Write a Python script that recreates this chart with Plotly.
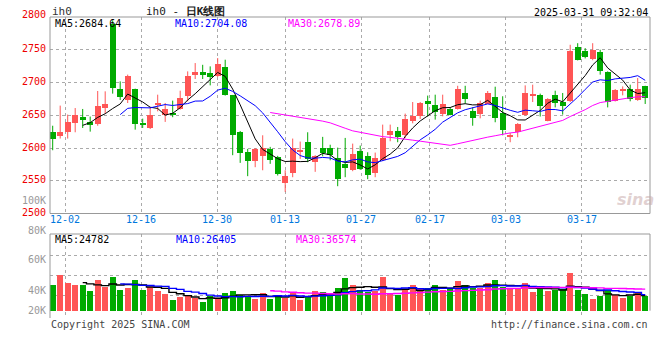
import plotly.graph_objects as go
import pandas as pd

# ---------------- data ----------------
opens = [2624.5, 2618, 2624, 2637.7, 2648, 2639, 2636, 2660.6, 2790, 2690.6,
         2672.8, 2690.6, 2638.7, 2630.6, 2665.2, 2650, 2653.5, 2660, 2680, 2712,
         2716.5, 2715, 2709.4, 2723, 2680.4, 2625, 2593.5, 2580.8, 2587.4, 2599,
         2586.4, 2546.8, 2562, 2594.5, 2608.8, 2578.8, 2600.6, 2600.6, 2585.4, 2575.2,
         2567, 2596, 2588.4, 2561.5, 2581.3, 2619.4, 2626.5, 2619.4, 2640.8, 2648.4,
         2672.3, 2665.2, 2652.5, 2660, 2659.6, 2684.5, 2657, 2651.4, 2667.2, 2678.4,
         2653, 2616.4, 2624.5, 2650, 2679.4, 2681.4, 2641.8, 2681.4, 2670.2, 2671.3,
         2754, 2748.5, 2735.8, 2747, 2716, 2672.3, 2686.5, 2690.6, 2672.8, 2694]
highs = [2634, 2664.7, 2651, 2661, 2659.6, 2648, 2687, 2686.5, 2795, 2701.7,
         2712, 2690.6, 2644.8, 2662.6, 2681.4, 2668.7, 2672.3, 2687.5, 2717, 2729.7,
         2727, 2724.6, 2737.3, 2734.8, 2681, 2626, 2598.6, 2600, 2619.4, 2601.7,
         2588, 2566, 2614.4, 2609.8, 2624, 2589, 2617, 2605, 2600.6, 2615.4,
         2606.7, 2603.7, 2593.5, 2593, 2635.7, 2635.7, 2632.1, 2652.5, 2670.2, 2670.2,
         2680, 2681.4, 2681.4, 2662.6, 2695, 2695, 2662, 2672.3, 2687, 2693.6,
         2679, 2623, 2638, 2695.6, 2696.7, 2683, 2676, 2687.5, 2684, 2757.6,
         2760, 2752.5, 2760, 2750, 2717, 2690, 2694, 2696.7, 2706.8, 2695]
lows = [2596.6, 2614.4, 2614.4, 2624, 2630.6, 2625, 2634, 2652.5, 2683, 2673.3,
        2668.7, 2628, 2630.6, 2629, 2656, 2639.8, 2647, 2658.6, 2671.3, 2705.3,
        2705.3, 2695.6, 2708.5, 2680, 2589, 2577.3, 2557, 2570.7, 2566, 2575.8,
        2558, 2533, 2555.4, 2583.4, 2578.3, 2563.6, 2587.4, 2581.3, 2541.7, 2555.4,
        2564.6, 2566.6, 2552.4, 2555.4, 2580, 2610.3, 2608.8, 2615.4, 2637.7, 2644.3,
        2648, 2643.3, 2648.4, 2650, 2658.6, 2667.7, 2634, 2645.3, 2667, 2639.3,
        2619.4, 2608.8, 2616.4, 2649, 2670.2, 2648, 2640.8, 2662, 2651, 2670,
        2733.7, 2736.8, 2734, 2712, 2662, 2671, 2680.4, 2671.3, 2672, 2667.2]
closes = [2614.4, 2624.5, 2639.8, 2651, 2643.3, 2634.7, 2664.7, 2667.7, 2691, 2678,
          2710.4, 2637.2, 2634.7, 2651, 2668.7, 2659.6, 2651, 2676.8, 2710.4, 2716.5,
          2712, 2708.9, 2728.7, 2680.4, 2619.4, 2592, 2579.8, 2598, 2599.6, 2581.3,
          2560, 2558, 2600.6, 2596, 2583.4, 2587.4, 2592, 2589, 2552.4, 2569,
          2591.5, 2568.6, 2558.5, 2584, 2615.9, 2626.5, 2616.4, 2644.8, 2649.4, 2669.2,
          2666.7, 2654.5, 2667.7, 2651, 2690.6, 2674.3, 2645.3, 2669.2, 2684.5, 2645.3,
          2627, 2620.5, 2637.2, 2684, 2681.4, 2663.6, 2675.3, 2668.7, 2663.6, 2747.5,
          2734.8, 2738.3, 2750, 2718, 2670.2, 2689, 2690.6, 2675.3, 2690.6, 2676.3]
volumes = [41800, 58100, 45100, 41800, 41800, 32100, 50000, 38600, 54900, 33700,
           36900, 50000, 33700, 38600, 32100, 27200, 17400, 22300, 23900, 20600,
           14100, 23400, 19000, 28800, 32100, 25500, 23400, 19600, 28800, 19000,
           23900, 20600, 28800, 17400, 23900, 32100, 30400, 25500, 36900, 53200,
           41800, 33700, 30400, 32100, 54900, 28800, 25500, 33700, 41800, 35300,
           36900, 41800, 33700, 35300, 48400, 41800, 36900, 36900, 45100, 50000,
           38600, 35300, 35300, 45100, 30400, 36900, 32100, 33700, 35300, 61400,
           33700, 27200, 19000, 23900, 33700, 25500, 20600, 23900, 30400, 23900]

date_labels = ["12-02", "12-16", "12-30", "01-13", "01-27", "02-17", "03-03", "03-17"]
date_index = [2, 12, 22, 31, 41, 50, 60, 70]
price_ticks = [2800, 2750, 2700, 2650, 2600, 2550, 2500]
vol_tick_labels = ["100K", "80K", "60K", "40K", "20K"]
price_ma_labels = ["MA5:2684.64", "MA10:2704.08", "MA30:2678.89"]
vol_ma_labels = ["MA5:24782", "MA10:26405", "MA30:36574"]
symbol = "ih0"
title_cn = "日K线图"
timestamp = "2025-03-31 09:32:04"

# ---------------- geometry helpers ----------------
W, H = 660, 360
L, R, T, B = 50, 10, 17, 42
PW, PH = W - L - R, H - T - B
PRICE_TOP, PRICE_BOT = 17, 213.5
VOL_TOP, VOL_BOT, VOL_ZERO = 234, 318, 310.7
VOL_PER_PX = 1630
N = len(closes)
STEP = PW / N            # candle slot width in px
GRID_STEP = PW / (N - 1)  # date grid spacing in px


def px_x(px):
    return (px - L) / PW


def px_y(py):
    return (T + PH - py) / PH


def grid_pos(k):
    # date grid line position expressed in candle-index units
    return (k * GRID_STEP - 2.7) / STEP


RED = "#ff5555"
GREEN = "#00aa00"
FONT = "DejaVu Sans Mono, Liberation Mono, monospace"

idx = list(range(N))
up = [c >= o for o, c in zip(opens, closes)]
colors = [RED if u else GREEN for u in up]

s_close = pd.Series(closes)
s_vol = pd.Series(volumes)

fig = go.Figure()

# wicks
for col, flag in ((RED, True), (GREEN, False)):
    xs, ys = [], []
    for i in idx:
        if up[i] == flag:
            xs += [i, i, None]
            ys += [lows[i], highs[i], None]
    fig.add_trace(go.Scatter(x=xs, y=ys, mode="lines", line=dict(color=col, width=1),
                             hoverinfo="skip", showlegend=False, xaxis="x", yaxis="y"))

# bodies
base = [min(o, c) for o, c in zip(opens, closes)]
height = [max(abs(c - o), 1.6) for o, c in zip(opens, closes)]
fig.add_trace(go.Bar(x=idx, y=height, base=base, width=0.8,
                     marker=dict(color=colors, line=dict(width=0)),
                     showlegend=False, xaxis="x", yaxis="y"))

# price moving averages
for w, col in ((5, "#000000"), (10, "#0000ff"), (30, "#ff00ff")):
    ma = s_close.rolling(w).mean()
    fig.add_trace(go.Scatter(x=idx, y=ma, mode="lines", line=dict(color=col, width=1),
                             showlegend=False, xaxis="x", yaxis="y"))

# volume bars
fig.add_trace(go.Bar(x=idx, y=volumes, width=0.8,
                     marker=dict(color=colors, line=dict(width=0)),
                     showlegend=False, xaxis="x2", yaxis="y2"))

for w, col in ((5, "#000000"), (10, "#0000ff"), (30, "#ff00ff")):
    ma = s_vol.rolling(w).mean()
    fig.add_trace(go.Scatter(x=idx, y=ma, mode="lines", line=dict(color=col, width=1.4, shape="hvh"),
                             showlegend=False, xaxis="x2", yaxis="y2"))

xr = [(-2.7) / STEP, (PW - 2.7) / STEP]
gridvals = [grid_pos(k) for k in date_index]
price_domain = [px_y(PRICE_BOT), px_y(PRICE_TOP)]
vol_domain = [px_y(VOL_BOT), px_y(VOL_TOP)]
vol_range = [-(VOL_BOT - VOL_ZERO) * VOL_PER_PX, (VOL_ZERO - VOL_TOP) * VOL_PER_PX]
vol_grid = [(VOL_ZERO - p) * VOL_PER_PX for p in (255.3, 275.3, 295.3)]

grid_style = dict(showgrid=True, gridcolor="#aaaaaa", griddash="dot", gridwidth=1,
                  zeroline=False, showline=False, showticklabels=False, ticks="")

fig.update_layout(
    width=W, height=H,
    margin=dict(l=L, r=R, t=T, b=B),
    paper_bgcolor="white", plot_bgcolor="white",
    bargap=0, barmode="overlay",
    showlegend=False,
    xaxis=dict(range=xr, domain=[0, 1], anchor="y", tickvals=gridvals, **grid_style),
    yaxis=dict(range=[2500, 2800], domain=price_domain, anchor="x",
               tickvals=[2550, 2600, 2650, 2700, 2750], **grid_style),
    xaxis2=dict(range=xr, domain=[0, 1], anchor="y2", tickvals=gridvals, matches="x", **grid_style),
    yaxis2=dict(range=vol_range, domain=vol_domain, anchor="x2", tickvals=vol_grid, **grid_style),
)

# borders
fig.add_shape(type="rect", xref="x domain", yref="y domain", x0=0, x1=1, y0=0, y1=1,
              line=dict(color="#999999", width=1))
fig.add_shape(type="line", xref="x2 domain", yref="y2 domain", x0=0, x1=1, y0=1, y1=1,
              line=dict(color="#999999", width=1))
fig.add_shape(type="line", xref="x2 domain", yref="y2 domain", x0=0, x1=0, y0=0, y1=1,
              line=dict(color="#999999", width=1))
fig.add_shape(type="line", xref="x2 domain", yref="y2 domain", x0=1, x1=1,
              y0=(VOL_BOT - VOL_ZERO) / (VOL_BOT - VOL_TOP), y1=1,
              line=dict(color="#999999", width=1))


def ann(text, px, py, color, xanchor="left", size=10):
    fig.add_annotation(text=text, x=px_x(px), y=px_y(py), xref="paper", yref="paper",
                       xanchor=xanchor, yanchor="middle", showarrow=False,
                       font=dict(family=FONT, size=size, color=color))


# header
ann(symbol, 50, 11.5, "#333333", size=11)
ann(symbol + " - <b>" + title_cn + "</b>", 185, 11.5, "#222222", xanchor="center", size=11)
ann(timestamp, 650, 12, "#000000", xanchor="right", size=10)

# price axis labels
price_label_y = {2800: 15}
for p in price_ticks:
    py = PRICE_TOP + (2800 - p) * (PRICE_BOT - PRICE_TOP) / 300
    py = price_label_y.get(p, py)
    ann(str(p), 48, py - 1, "#ee0000", xanchor="right")

# volume axis labels (positions as drawn by the source chart)
for lab, py in zip(vol_tick_labels, (200, 230, 259.5, 290.3, 310.5)):
    ann(lab, 48, py, "#999999", xanchor="right")

# date labels
for lab, k in zip(date_labels, date_index):
    ann(lab, L + k * GRID_STEP, 219.5, "#0077dd", xanchor="center")

# MA labels
for lab, px, col in zip(price_ma_labels, (53, 173, 286), ("#000000", "#0000ff", "#ff00ff")):
    ann(lab, px, 23.5, col)
for lab, px, col in zip(vol_ma_labels, (53, 173.5, 293.5), ("#000000", "#0000ff", "#ff00ff")):
    ann(lab, px, 239.5, col)

# footer
ann("Copyright 2025 SINA.COM", 49, 324, "#444444")
ann("http://finance.sina.com.cn", 650, 324, "#444444", xanchor="right")

# watermark
fig.add_annotation(text="<b><i>sina</i></b>", x=px_x(635), y=px_y(199), xref="paper", yref="paper",
                   xanchor="center", yanchor="middle", showarrow=False,
                   font=dict(family="DejaVu Sans", size=16, color="rgba(200,170,170,0.55)"))

fig.write_html("out.html", config={"displayModeBar": False},
               post_script="document.body.style.margin='0px';document.body.style.padding='0px';")
